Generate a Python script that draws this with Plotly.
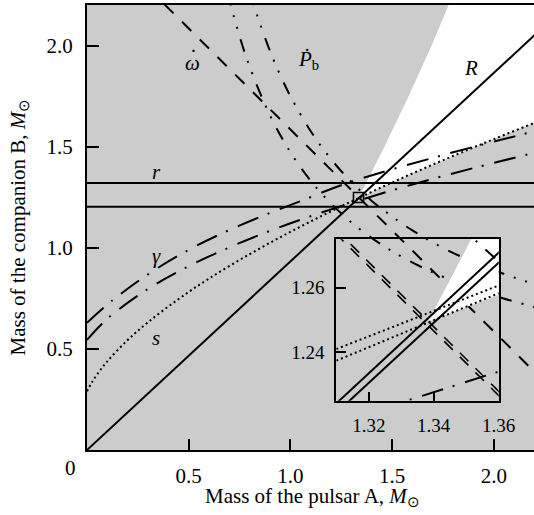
import plotly.graph_objects as go

# ---------------- data ----------------
# main panel (masses in solar units)
omdot_x = [0.38, 2.207]                      # periastron advance line
omdot_y = [2.207, 0.38]

pbr_x = [0.80, 0.821, 0.85, 0.9, 0.95, 1.0, 1.1, 1.2, 1.3, 1.4, 1.5, 1.6, 1.7518, 1.8555, 1.9745, 2.112, 2.25]
pbr_y = [2.264, 2.2, 2.112, 1.9745, 1.8555, 1.7518, 1.578, 1.4397, 1.327, 1.2332, 1.156, 1.087, 1.0, 0.95, 0.9, 0.85, 0.8045]
pbl_x = [0.69, 0.7073, 0.75, 0.8, 0.9, 1.0, 1.1, 1.2097, 1.3327, 1.4743, 1.656, 1.8965, 2.048, 2.2, 2.25]
pbl_y = [2.262, 2.2, 2.048, 1.8965, 1.656, 1.4743, 1.3327, 1.2097, 1.1, 1.0, 0.9, 0.8, 0.75, 0.7073, 0.69]

gu_x = [0, 0.128, 0.308, 0.4985, 0.700, 0.908, 1.0555, 1.275, 1.750, 2.127, 2.25]
gu_y = [0.630, 0.743, 0.875, 0.990, 1.089, 1.177, 1.234, 1.320, 1.460, 1.559, 1.590]
gl_x = [0, 0.1, 0.3, 0.5, 0.7, 0.9, 1.1, 1.338, 1.6, 1.9, 2.25]
gl_y = [0.545, 0.65, 0.7975, 0.91, 1.003, 1.085, 1.1575, 1.2356, 1.3146, 1.3955, 1.4835]

s_x = [0, 0.02, 0.05, 0.1, 0.2, 0.3, 0.45, 0.6, 0.8, 1.0, 1.2, 1.4, 1.6, 1.8, 2.0, 2.2, 2.25]
s_y = [0.291, 0.328, 0.3745, 0.439, 0.5445, 0.6325, 0.747, 0.849, 0.9697, 1.0797, 1.182, 1.278, 1.369, 1.4557, 1.539, 1.6195, 1.64]

r_levels = [1.204, 1.322]
R_x = [0.0, 2.25]
R_y = [0.0, 2.10]

wedge_x = [1.335, 1.4, 1.6, 1.8, 2.0, 2.2, 2.25, 2.25, 1.797, 1.777, 1.693, 1.5805, 1.4617, 1.335]
wedge_y = [1.247, 1.278, 1.369, 1.4557, 1.539, 1.6195, 1.64, 2.25, 2.25, 2.2, 2.0, 1.75, 1.5, 1.247]

box_x = [1.31, 1.36]
box_y = [1.225, 1.275]

lab_text = ["<i>ω</i>", "<i>Ṗ</i><sub>b</sub>", "<i>R</i>", "<i>r</i>", "<i>γ</i>", "<i>s</i>"]
lab_x = [0.52, 1.09, 1.89, 0.341, 0.343, 0.341]
lab_y = [1.915, 1.931, 1.891, 1.378, 0.960, 0.553]
omega_dot_xy = [0.523, 1.975]   # the dot above the omega

# inset panel
in_om1_x = [1.30, 1.37]
in_om1_y = [1.2866, 1.2166]
in_om2_x = [1.30, 1.37]
in_om2_y = [1.2879, 1.2179]
in_R1_x = [1.30, 1.37]
in_R1_y = [1.2148, 1.2802]
in_R2_x = [1.30, 1.37]
in_R2_y = [1.2119, 1.2771]
in_s1_x = [1.31, 1.36]
in_s1_y = [1.2410, 1.2607]
in_s2_x = [1.31, 1.36]
in_s2_y = [1.2374, 1.2583]
in_g_x = [1.31, 1.365]
in_g_y = [1.2181, 1.2356]
in_pb_x = [1.345, 1.365]
in_pb_y = [1.2819, 1.2635]
in_wedge_x = [1.3383, 1.365, 1.365, 1.3541, 1.3383]
in_wedge_y = [1.2495, 1.2597, 1.28, 1.28, 1.2495]

# ---------------- figure ----------------
FONT = "Liberation Serif"
GREY = "#cccccc"
fig = go.Figure()

def line(x, y, dash, width=2, xa="x", ya="y", shape="spline"):
    fig.add_trace(go.Scatter(x=x, y=y, mode="lines", xaxis=xa, yaxis=ya,
                             line=dict(color="black", width=width, dash=dash, shape=shape),
                             hoverinfo="skip", showlegend=False))

# main panel
fig.add_trace(go.Scatter(x=wedge_x, y=wedge_y, mode="lines", fill="toself",
                         fillcolor="white", line=dict(width=0, color="white"),
                         hoverinfo="skip", showlegend=False))
line(omdot_x, omdot_y, "13px,12px", shape="linear")
line(pbl_x, pbl_y, "13px,10px,2px,10px,2px,11px")
line(pbr_x, pbr_y, "13px,10px,2px,10px,2px,11px")
line(gu_x, gu_y, "22px,10px,2px,11px")
line(gl_x, gl_y, "22px,10px,2px,11px")
line(s_x, s_y, "2px,3px")
for lv in r_levels:
    line([0, 2.25], [lv, lv], "solid", shape="linear")
line(R_x, R_y, "solid", shape="linear")

# inset panel
fig.add_trace(go.Scatter(x=in_wedge_x, y=in_wedge_y, mode="lines", fill="toself",
                         fillcolor="white", line=dict(width=0, color="white"),
                         xaxis="x2", yaxis="y2", hoverinfo="skip", showlegend=False))
line(in_om1_x, in_om1_y, "12px,10px", 1.6, "x2", "y2", "linear")
line(in_om2_x, in_om2_y, "12px,10px", 1.6, "x2", "y2", "linear")
line(in_R1_x, in_R1_y, "solid", 2, "x2", "y2", "linear")
line(in_R2_x, in_R2_y, "solid", 2, "x2", "y2", "linear")
line(in_s1_x, in_s1_y, "2px,3px", 2, "x2", "y2", "linear")
line(in_s2_x, in_s2_y, "2px,3px", 2, "x2", "y2", "linear")
line(in_g_x, in_g_y, "22px,10px,2px,11px", 2, "x2", "y2", "linear")
line(in_pb_x, in_pb_y, "13px,10px,2px,10px,2px,11px", 2, "x2", "y2", "linear")

L, T, B = 87, 5, 65
W, H = 534, 515
pw, ph = W - L, H - T - B

shapes = [
    dict(type="rect", xref="paper", yref="paper", x0=0, x1=1, y0=0, y1=1,
         fillcolor=GREY, line=dict(width=0), layer="below"),
    dict(type="rect", xref="x", yref="y", x0=box_x[0], x1=box_x[1], y0=box_y[0], y1=box_y[1],
         line=dict(color="black", width=1.5)),
]

def txt(**kw):
    d = dict(showarrow=False, xanchor="center", yanchor="middle",
             font=dict(family=FONT, size=21, color="black"))
    d.update(kw)
    return d

ann = []
for t, x, y in zip(lab_text, lab_x, lab_y):
    ann.append(txt(text=t, x=x, y=y, xref="x", yref="y"))
ann.append(txt(text="·", x=omega_dot_xy[0], y=omega_dot_xy[1], xref="x", yref="y"))
ann.append(txt(text="Mass of the pulsar A, <i>M</i><sub>⊙</sub>", xref="paper", yref="paper",
               x=(312 - L) / pw, y=(450 - 497) / ph))
ann.append(txt(text="Mass of the companion B, <i>M</i><sub>⊙</sub>", xref="paper", yref="paper",
               x=(18 - L) / pw, y=0.5, textangle=-90))
ann.append(txt(text="0", xref="paper", yref="paper", x=(70 - L) / pw, y=(450 - 468) / ph))

axis_common = dict(showgrid=False, zeroline=False, showline=True, linecolor="black",
                   linewidth=2, ticks="inside", tickcolor="black", tickwidth=2,
                   automargin=False,
                   tickfont=dict(family=FONT, size=21, color="black"))

fig.update_layout(
    template="none",
    width=W, height=H, autosize=False,
    margin=dict(l=L, r=0, t=T, b=B, pad=0, autoexpand=False),
    paper_bgcolor="white", plot_bgcolor="rgba(0,0,0,0)",
    showlegend=False, shapes=shapes, annotations=ann,
    xaxis=dict(axis_common, domain=[0, 1], range=[0, pw / 203.4], mirror=True,
               tickvals=[0.5, 1.0, 1.5, 2.0], ticktext=["0.5", "1.0", "1.5", "2.0"],
               ticklen=11, ticklabelstandoff=6),
    yaxis=dict(axis_common, domain=[0, 1], range=[0, ph / 202.0], mirror=False,
               tickvals=[0.5, 1.0, 1.5, 2.0], ticktext=["0.5", "1.0", "1.5", "2.0"],
               ticklen=12, ticklabelstandoff=8),
    xaxis2=dict(axis_common, domain=[(336.3 - L) / pw, (498.7 - L) / pw], anchor="y2",
                range=[1.31, 1.36], mirror=True,
                tickvals=[1.32, 1.34, 1.36], ticktext=["1.32", "1.34", "1.36"],
                ticklen=9, ticklabelstandoff=6,
                tickfont=dict(family=FONT, size=19, color="black")),
    yaxis2=dict(axis_common, domain=[(450 - 400.7) / ph, (450 - 239.3) / ph], anchor="x2",
                range=[1.225, 1.275], mirror=True,
                tickvals=[1.24, 1.26], ticktext=["1.24", "1.26"],
                ticklen=10, ticklabelstandoff=6,
                tickfont=dict(family=FONT, size=19, color="black")),
)

fig.write_html("out.html", config={"responsive": False})
